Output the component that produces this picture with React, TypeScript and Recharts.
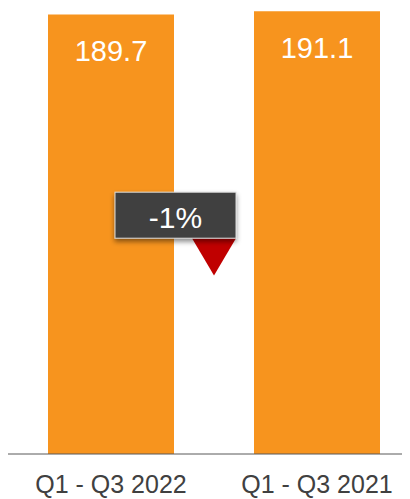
import { BarChart, Bar, XAxis, YAxis, LabelList, ReferenceArea } from 'recharts';

const periods = ['Q1 - Q3 2022', 'Q1 - Q3 2021'];
const revenue = [189.7, 191.1];

// vertical span of the change callout, in value units
const calloutRange = [77, 113];

const data = periods.map((period, i) => ({ period, revenue: revenue[i] }));

const change = Math.round(((revenue[0] - revenue[1]) / revenue[1]) * 100);
const changeLabel = `${change}%`;

const FONT = '"Liberation Sans", Arial, sans-serif';

function ValueLabel(props: any) {
  const { x, y, width, value } = props;
  return (
    <text x={x + width / 2} y={y + 46.5} textAnchor="middle" fill="#ffffff" fontSize={29} fontFamily={FONT}>
      {Number(value).toFixed(1)}
    </text>
  );
}

function PeriodTick(props: any) {
  const { x, y, payload } = props;
  return (
    <text x={x} y={y + 31} textAnchor="middle" fill="#404040" fontSize={25} fontFamily={FONT}>
      {payload.value}
    </text>
  );
}

function Callout(props: any) {
  const { x, y, width, height } = props;
  const cx = x + width / 2;
  const boxH = 46;
  const boxW = 121;
  const half = 22;
  const right = cx + half;
  return (
    <g>
      <defs>
        <filter id="callout-shadow" x="-20%" y="-20%" width="140%" height="170%">
          <feDropShadow dx={0} dy={3} stdDeviation={2.5} floodColor="#000" floodOpacity={0.45} />
        </filter>
      </defs>
      <polygon
        points={`${cx - half},${y + boxH} ${cx + half},${y + boxH} ${cx},${y + height}`}
        fill="#c00000"
      />
      <rect
        x={right - boxW}
        y={y}
        width={boxW}
        height={boxH}
        fill="#404040"
        stroke="#d9d9d9"
        strokeWidth={1}
        filter="url(#callout-shadow)"
      />
      <text x={right - boxW / 2} y={y + 36} textAnchor="middle" fill="#ffffff" fontSize={30} fontFamily={FONT}>
        {changeLabel}
      </text>
    </g>
  );
}

export default function App() {
  return (
    <div style={{ width: 402 }}>
      <BarChart width={412} height={491} data={data} margin={{ top: 0, right: 0, left: 0, bottom: 0 }}>
        <XAxis
          dataKey="period"
          height={45}
          axisLine={{ stroke: '#595959', strokeWidth: 1 }}
          tickLine={false}
          tick={<PeriodTick />}
          interval={0}
        />
        <YAxis hide domain={[0, 192.5]} />
        <Bar dataKey="revenue" fill="#f7941e" barSize={126} isAnimationActive={false}>
          <LabelList dataKey="revenue" content={<ValueLabel />} />
        </Bar>
        <ReferenceArea
          x1={periods[0]}
          x2={periods[1]}
          y1={calloutRange[0]}
          y2={calloutRange[1]}
          shape={<Callout />}
          zIndex={2500}
        />
      </BarChart>
    </div>
  );
}
